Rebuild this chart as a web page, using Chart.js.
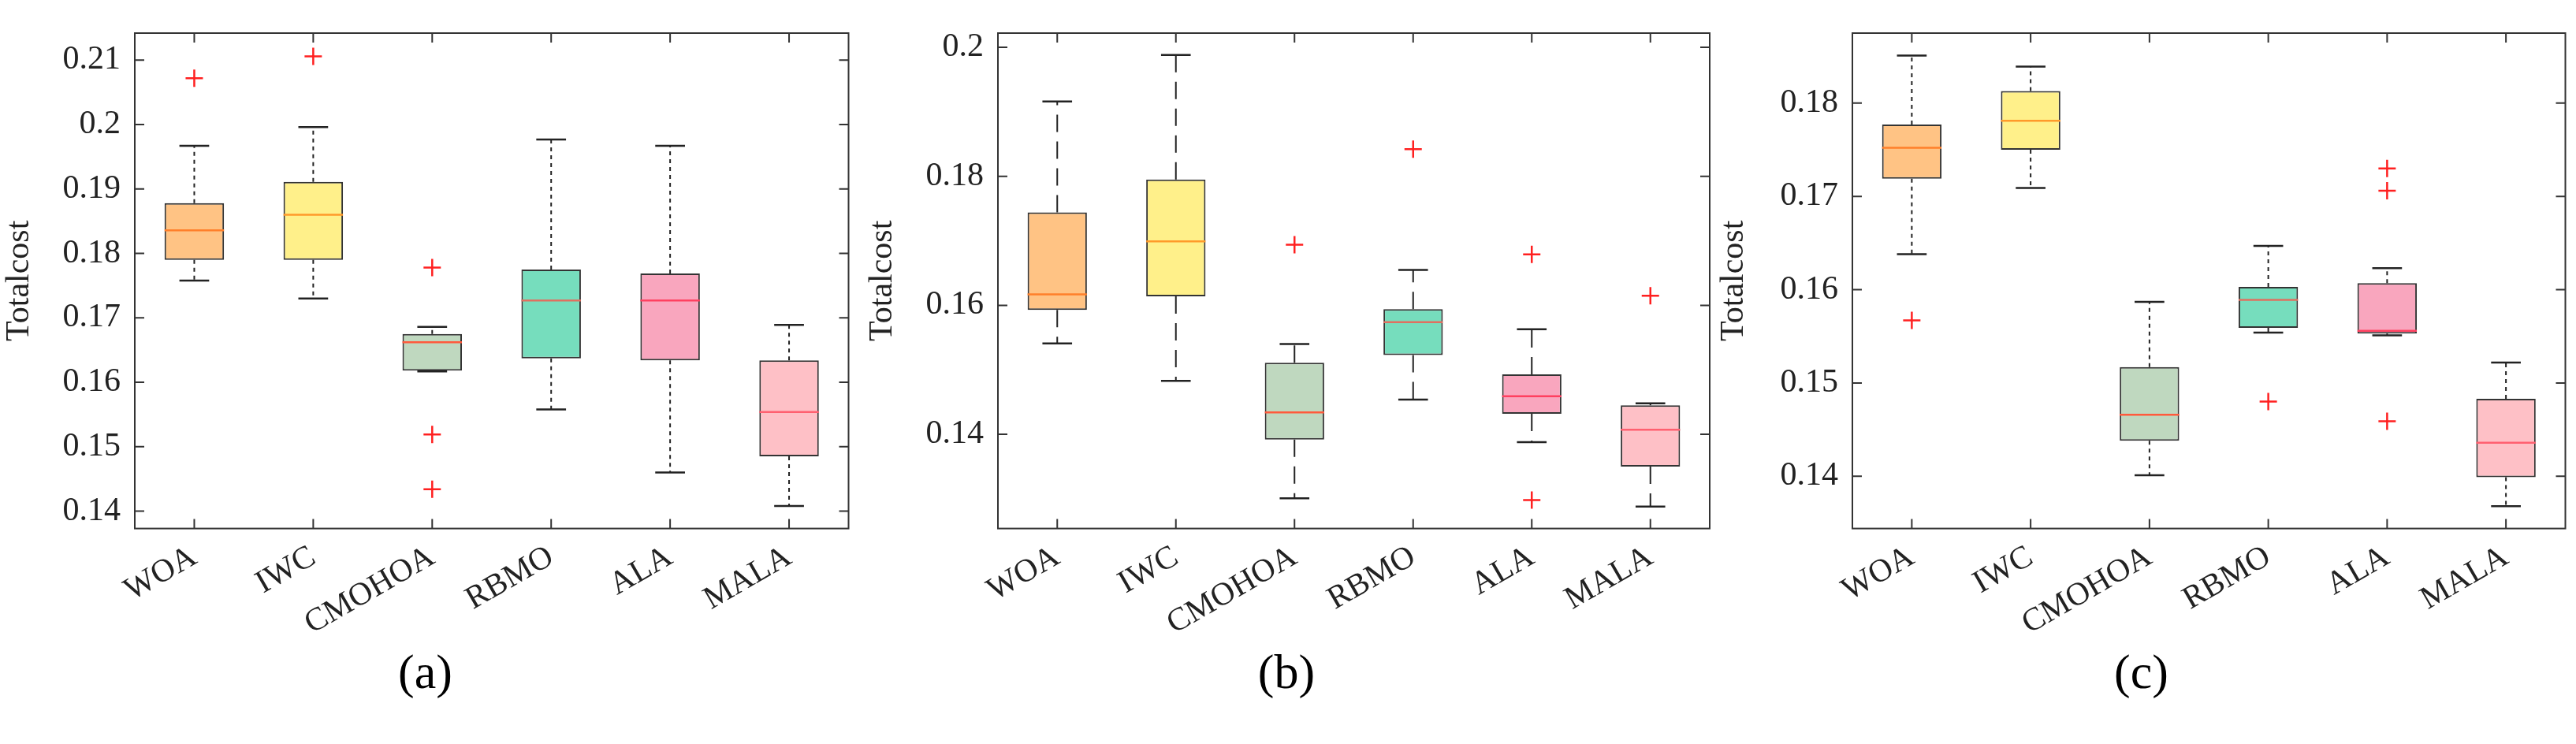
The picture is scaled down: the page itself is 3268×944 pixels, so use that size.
<!DOCTYPE html>
<html>
<head>
<meta charset="utf-8">
<script src="https://cdn.jsdelivr.net/npm/chart.js@4"></script>
<style>
  body { margin: 0; background: #fff; width: 3268px; height: 944px; overflow: hidden; }
  .panel { position: absolute; top: 0; height: 944px; }
</style>
</head>
<body>
<div class="panel" style="left:0;width:1090px"><canvas id="ca"></canvas></div>
<div class="panel" style="left:1095px;width:1090px"><canvas id="cb"></canvas></div>
<div class="panel" style="left:2175px;width:1093px"><canvas id="cc"></canvas></div>
<script>
// 算法名称
const algorithms = ['WOA', 'IWC', 'CMOHOA', 'RBMO', 'ALA', 'MALA'];
const boxColors = ['#FFC384', '#FFF08A', '#BFD8BF', '#76DDBD', '#F9A6BE', '#FEC0C6'];
const medianColors = ['#FF7F2A', '#FF9A2A', '#FF5A3C', '#E07060', '#FF4060', '#FF6070'];

// (a)
const aMin = [0.1758, 0.1730, 0.1617, 0.1558, 0.1460, 0.1408];
const aQ1  = [0.1790, 0.1790, 0.1618, 0.1637, 0.1634, 0.1485];
const aMed = [0.1836, 0.1860, 0.1662, 0.1727, 0.1727, 0.1554];
const aQ3  = [0.1878, 0.1911, 0.1675, 0.1775, 0.1769, 0.1634];
const aMax = [0.1967, 0.1996, 0.1686, 0.1977, 0.1967, 0.1689];
const aOut = [['WOA', 0.2072], ['IWC', 0.2106], ['CMOHOA', 0.1778], ['CMOHOA', 0.1519], ['CMOHOA', 0.1434]];
const aTicks = [0.14, 0.15, 0.16, 0.17, 0.18, 0.19, 0.2, 0.21];

// (b)
const bMin = [0.1541, 0.1483, 0.1301, 0.1454, 0.1388, 0.1288];
const bQ1  = [0.1593, 0.1614, 0.1392, 0.1523, 0.1432, 0.1350];
const bMed = [0.1617, 0.1699, 0.1434, 0.1574, 0.1459, 0.1407];
const bQ3  = [0.1744, 0.1795, 0.1511, 0.1594, 0.1493, 0.1445];
const bMax = [0.1916, 0.1988, 0.1540, 0.1655, 0.1563, 0.1448];
const bOut = [['CMOHOA', 0.1694], ['RBMO', 0.1842], ['ALA', 0.1679], ['ALA', 0.1298], ['MALA', 0.1615]];
const bTicks = [0.14, 0.16, 0.18, 0.2];

// (c)
const cMin = [0.1638, 0.1709, 0.1401, 0.1554, 0.1551, 0.1368];
const cQ1  = [0.1719, 0.1750, 0.1438, 0.1559, 0.1553, 0.1399];
const cMed = [0.1752, 0.1781, 0.1466, 0.1589, 0.1556, 0.1436];
const cQ3  = [0.1777, 0.1813, 0.1517, 0.1603, 0.1607, 0.1483];
const cMax = [0.1851, 0.1839, 0.1587, 0.1647, 0.1623, 0.1522];
const cOut = [['WOA', 0.1567], ['RBMO', 0.1480], ['ALA', 0.1730], ['ALA', 0.1706], ['ALA', 0.1459]];
const cTicks = [0.14, 0.15, 0.16, 0.17, 0.18];

const FONT = "'Liberation Serif', 'DejaVu Serif', serif";

// 须线、中位线、边框
const boxPlugin = {
    id: 'boxWhisk',
    afterDatasetsDraw(chart, args, opts) {
        const ctx = chart.ctx;
        const x = chart.scales.x, y = chart.scales.y;
        const meta = chart.getDatasetMeta(0);
        ctx.save();
        meta.data.forEach((bar, i) => {
            const cx = bar.x, hw = bar.width / 2, cw = hw * 0.5;
            const yMin = y.getPixelForValue(opts.min[i]);
            const yQ1 = y.getPixelForValue(opts.q1[i]);
            const yQ3 = y.getPixelForValue(opts.q3[i]);
            const yMax = y.getPixelForValue(opts.max[i]);
            const yMed = y.getPixelForValue(opts.med[i]);
            ctx.strokeStyle = '#222';
            ctx.lineWidth = 2;
            ctx.setLineDash(opts.dash);
            ctx.beginPath();
            ctx.moveTo(cx, yQ3); ctx.lineTo(cx, yMax);
            ctx.moveTo(cx, yQ1); ctx.lineTo(cx, yMin);
            ctx.stroke();
            ctx.setLineDash([]);
            ctx.lineWidth = 2.5;
            ctx.beginPath();
            ctx.moveTo(cx - cw, yMax); ctx.lineTo(cx + cw, yMax);
            ctx.moveTo(cx - cw, yMin); ctx.lineTo(cx + cw, yMin);
            ctx.stroke();
            ctx.strokeStyle = medianColors[i];
            ctx.lineWidth = 2.5;
            ctx.beginPath();
            ctx.moveTo(cx - hw, yMed); ctx.lineTo(cx + hw, yMed);
            ctx.stroke();
        });
        const a = chart.chartArea;
        ctx.strokeStyle = '#333';
        ctx.lineWidth = 2;
        ctx.strokeRect(a.left, a.top, a.right - a.left, a.bottom - a.top);
        ctx.beginPath();
        y.ticks.forEach(t => {
            const py = y.getPixelForValue(t.value);
            ctx.moveTo(a.left, py); ctx.lineTo(a.left + 12, py);
            ctx.moveTo(a.right, py); ctx.lineTo(a.right - 12, py);
        });
        x.ticks.forEach((t, i) => {
            const px = x.getPixelForValue(i);
            ctx.moveTo(px, a.bottom); ctx.lineTo(px, a.bottom - 12);
            ctx.moveTo(px, a.top); ctx.lineTo(px, a.top + 12);
        });
        ctx.stroke();
        ctx.restore();
    }
};

function makeChart(id, letter, min, q1, med, q3, max, outs, ticks, yMin, yMax, yWidth, padRight, dash) {
    new Chart(document.getElementById(id), {
        type: 'bar',
        data: {
            labels: algorithms,
            datasets: [{
                data: algorithms.map((_, i) => [q1[i], q3[i]]),
                backgroundColor: boxColors,
                borderColor: '#333',
                borderWidth: 2,
                borderSkipped: false,
                categoryPercentage: 1,
                barPercentage: 0.5
            }, {
                type: 'line',
                data: outs.map(o => ({ x: o[0], y: o[1] })),
                showLine: false,
                pointStyle: 'cross',
                pointRadius: 11,
                pointBorderWidth: 2.5,
                pointBorderColor: '#FF2020'
            }]
        },
        options: {
            responsive: true,
            maintainAspectRatio: false,
            animation: false,
            layout: { padding: { top: 42, right: padRight, left: 0, bottom: 0 } },
            scales: {
                x: {
                    grid: { display: false },
                    border: { display: false },
                    afterFit: s => { s.height = 149; },
                    ticks: {
                        color: '#222',
                        font: { family: FONT, size: 41 },
                        minRotation: 30,
                        maxRotation: 30,
                        padding: 4
                    }
                },
                y: {
                    min: yMin,
                    max: yMax,
                    afterBuildTicks: s => { s.ticks = ticks.map(v => ({ value: v })); },
                    afterFit: s => { s.width = yWidth; },
                    grid: { display: false },
                    border: { display: false },
                    ticks: {
                        color: '#222',
                        font: { family: FONT, size: 42 },
                        padding: 10,
                        callback: v => String(Number(v.toFixed(3)))
                    },
                    title: {
                        display: true,
                        text: 'Totalcost',
                        color: '#222',
                        font: { family: FONT, size: 42 },
                        padding: 0
                    }
                }
            },
            plugins: {
                legend: { display: false },
                tooltip: { enabled: false },
                title: {
                    display: true,
                    position: 'bottom',
                    text: letter,
                    color: '#000',
                    font: { family: FONT, size: 62, weight: 'normal' },
                    padding: { top: 0, bottom: 50 }
                },
                boxWhisk: { min, q1, med, q3, max, dash }
            }
        },
        plugins: [boxPlugin]
    });
}

makeChart('ca', '(a)', aMin, aQ1, aMed, aQ3, aMax, aOut, aTicks, 0.1373, 0.2142, 171, 11, [5, 5]);
makeChart('cb', '(b)', bMin, bQ1, bMed, bQ3, bMax, bOut, bTicks, 0.1254, 0.2022, 171, 16, [22, 12]);
makeChart('cc', '(c)', cMin, cQ1, cMed, cQ3, cMax, cOut, cTicks, 0.1344, 0.1875, 175, 10, [5, 5]);
</script>
</body>
</html>
